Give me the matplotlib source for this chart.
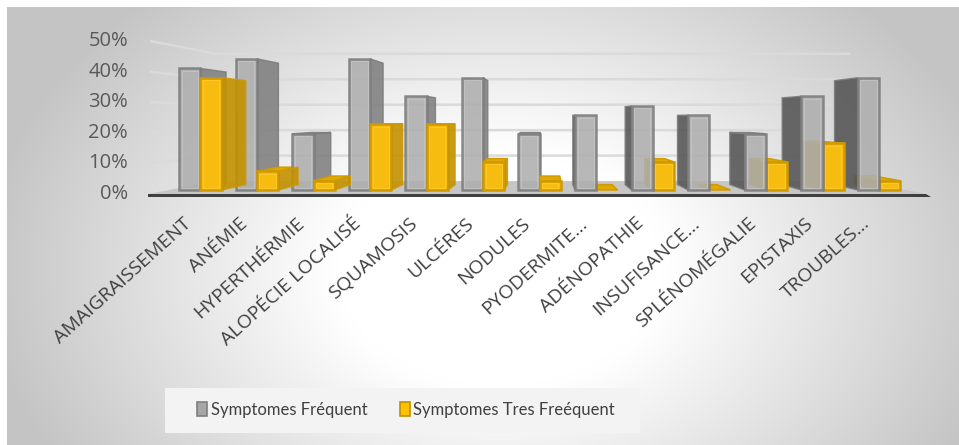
import numpy as np
import matplotlib.pyplot as plt
from matplotlib.patches import Polygon, Patch, Rectangle

plt.rcParams['font.family'] = ['Open Sans', 'DejaVu Sans']

# Data (percent of cases)
categories = ['AMAIGRAISSEMENT', 'ANÉMIE', 'HYPERTHÉRMIE', 'ALOPÉCIE LOCALISÉ',
              'SQUAMOSIS', 'ULCÉRES', 'NODULES', 'PYODERMITE...', 'ADÉNOPATHIE',
              'INSUFISANCE...', 'SPLÉNOMÉGALIE', 'EPISTAXIS', 'TROUBLES...']
frequent = [41.9, 45.2, 19.4, 45.2, 32.3, 38.7, 19.4, 25.8, 29.0, 25.8, 19.4, 32.3, 38.7]
tres_frequent = [38.7, 6.5, 3.2, 22.6, 22.6, 9.7, 3.2, 0.0, 9.7, 0.0, 9.7, 16.1, 3.2]
y_ticks = [0, 10, 20, 30, 40, 50]
series_names = ['Symptomes Fréquent', 'Symptomes Tres Freéquent']

W, H = 959, 445

# simple one-point perspective: front plane in pixels, depth z in [0, 1]
XV, YV = 545, 117
K = 0.202
Y0, PY = 194, 3.06
X_START, STEP = 181.6, 59.64
BAR_W = 22.4
Z_FRONT, Z_BACK = 0.27, 0.69
FLOOR_X = (148, 926)
WALL_X = (150, 912)


def proj(x, v, z):
    s = 1.0 / (1.0 + K * z)
    yf = Y0 - v * PY
    return XV + (x - XV) * s, YV + (yf - YV) * s


gray = dict(front='#AEAEAE', right='#7F7F7F', left='#545454', top='#9C9C9C',
            edge='#7C7C7C', inner='#C4C4C4', alpha=0.88)
yellow = dict(front='#F7BC10', right='#C39200', left='#B88B00', top='#E2A800',
              edge='#CF9A00', inner='#FFCB30', alpha=1.0)

fig = plt.figure(figsize=(W / 100, H / 100), dpi=100)
ax = fig.add_axes([0, 0, 1, 1])
ax.set_xlim(0, W)
ax.set_ylim(H, 0)
ax.axis('off')

# background: radial grey gradient
gx, gy = np.meshgrid(np.linspace(7, W, 480), np.linspace(7, H, 240))
r = np.sqrt(((gx - 500) / 470) ** 2 + ((gy - 270) / 340) ** 2)
t = np.clip((r - 0.35) / 0.75, 0, 1)
shade = 1.0 - t * (1.0 - 0.77)
ax.imshow(np.dstack([shade] * 3), extent=[7, W, H, 7], aspect='auto',
          interpolation='bicubic', zorder=0)

# walls gridlines (left wall + back wall)
for v in y_ticks[1:]:
    p0 = proj(WALL_X[0], v, 0)
    p1 = proj(WALL_X[0], v, 1)
    p2 = proj(WALL_X[1], v, 1)
    ax.plot([p0[0], p1[0], p2[0]], [p0[1], p1[1], p2[1]], color='#DADADA',
            lw=1.8, zorder=1, solid_capstyle='butt')

# floor
floor = [proj(FLOOR_X[0], 0, 0), proj(FLOOR_X[1], 0, 0),
         proj(FLOOR_X[1], 0, 1), proj(FLOOR_X[0], 0, 1)]
ax.add_patch(Polygon(floor, closed=True, fc='#C6C6C6', ec='none', zorder=2))
ax.add_patch(Polygon([(FLOOR_X[0], Y0), (FLOOR_X[1], Y0), (FLOOR_X[1] + 5, Y0 + 3),
                      (FLOOR_X[0], Y0 + 3)], closed=True, fc='#3F3F3F',
                     ec='none', zorder=2))

# bars, drawn from the outside towards the vanishing point
bars = []
for i in range(len(categories)):
    cx = X_START + i * STEP
    bars.append((cx - BAR_W, cx, frequent[i], gray))
    bars.append((cx, cx + BAR_W, tres_frequent[i], yellow))
bars.sort(key=lambda b: -abs((b[0] + b[1]) / 2 - XV))

z = 3
for xl, xr, h, st in bars:
    if xr < XV:
        side = [proj(xr, 0, Z_FRONT), proj(xr, h, Z_FRONT),
                proj(xr, h, Z_BACK), proj(xr, 0, Z_BACK)]
        # yellow side walls sit over the next bar, slightly see-through
        zs = 45 if st is yellow else z
        al = 0.9 if st is yellow else st['alpha']
        ax.add_patch(Polygon(side, closed=True, fc=st['right'], ec=st['edge'],
                             lw=1.0, alpha=al, zorder=zs))
    elif xl > XV:
        side = [proj(xl, 0, Z_FRONT), proj(xl, h, Z_FRONT),
                proj(xl, h, Z_BACK), proj(xl, 0, Z_BACK)]
        ax.add_patch(Polygon(side, closed=True, fc=st['left'], ec=st['edge'],
                             lw=1.0, alpha=st['alpha'], zorder=z))
    if Y0 - h * PY > YV:
        top = [proj(xl, h, Z_FRONT), proj(xr, h, Z_FRONT),
               proj(xr, h, Z_BACK), proj(xl, h, Z_BACK)]
        ax.add_patch(Polygon(top, closed=True, fc=st['top'], ec=st['edge'],
                             lw=1.0, alpha=st['alpha'], zorder=z))
    if h > 0:
        front = [proj(xl, 0, Z_FRONT), proj(xr, 0, Z_FRONT),
                 proj(xr, h, Z_FRONT), proj(xl, h, Z_FRONT)]
        ax.add_patch(Polygon(front, closed=True, fc=st['front'], ec=st['edge'],
                             lw=1.8, alpha=st['alpha'], zorder=z + 0.5))
        # bevel highlight inside the front face
        if h > 2:
            (ax0, ay0), (ax1, _) = proj(xl, 0, Z_FRONT), proj(xr, 0, Z_FRONT)
            _, ay1 = proj(xl, h, Z_FRONT)
            ax.add_patch(Rectangle((ax0 + 2.5, ay1 + 2.5), ax1 - ax0 - 5,
                                   ay0 - ay1 - 5, fc='none', ec=st['inner'],
                                   lw=0.8, alpha=0.8, zorder=z + 0.6))
    z += 1

# value axis labels
for v in y_ticks:
    ax.text(128, Y0 - v * PY, f'{v}%', ha='right', va='center',
            fontsize=14.5, color='#595959', zorder=60)

# category labels
for i, name in enumerate(categories):
    x, _ = proj(X_START + i * STEP, 0, Z_FRONT)
    ax.text(x - 12, 221, name, rotation=42, rotation_mode='anchor',
            ha='right', va='center', fontsize=14, color='#404040', zorder=60)

# legend
ax.add_patch(Rectangle((165, 388), 475, 45, fc='#F3F3F3', ec='none', zorder=50))
handles = [Patch(fc='#A6A6A6', ec='#7F7F7F', lw=1.2),
           Patch(fc='#FFC000', ec='#BF9000', lw=1.2)]
leg = ax.legend(handles, series_names, loc='center', ncol=2,
                bbox_to_anchor=(406 / W, 1 - 410 / H), frameon=False,
                prop={'family': ['Lato', 'DejaVu Sans'], 'size': 12},
                handlelength=0.62, handleheight=0.95,
                handletextpad=0.2, columnspacing=1.95, labelcolor='#404040')
leg.set_zorder(70)

fig.savefig('out.png', dpi=100, facecolor='white')
